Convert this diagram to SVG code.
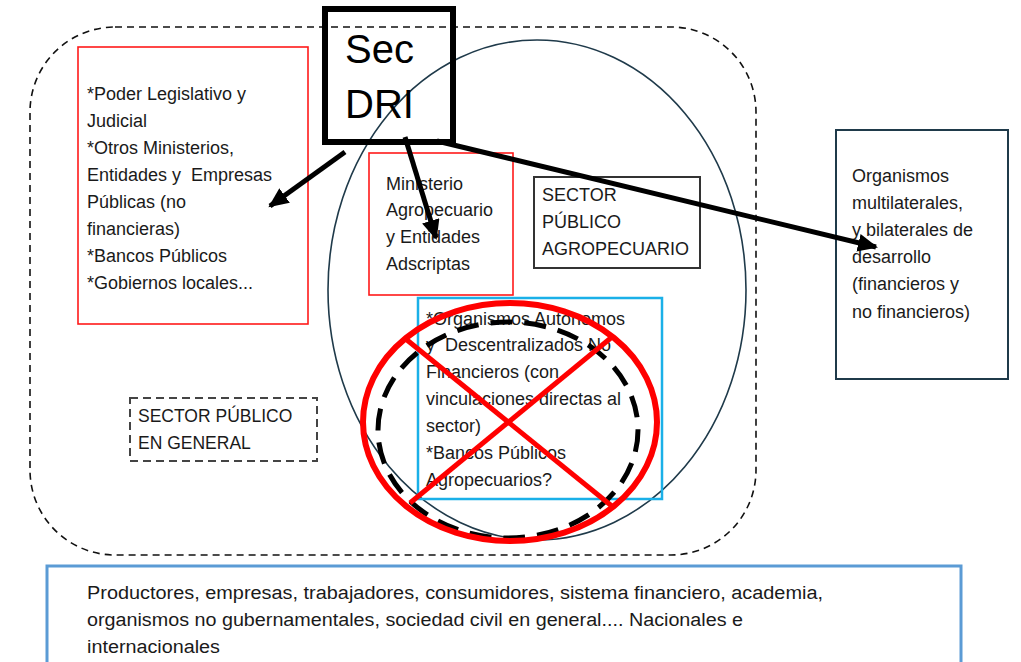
<svg xmlns="http://www.w3.org/2000/svg" width="1021" height="662" viewBox="0 0 1021 662">
<style>
.t{font-family:"Liberation Sans","Open Sans",sans-serif;font-size:18px;fill:#1a1a1a}
.cap{font-family:"Liberation Sans",sans-serif;font-size:17.5px;fill:#1a1a1a}
.red{fill:none;stroke:#ff1a1a;stroke-width:1.6}
.conn{stroke:#000;stroke-width:5;fill:none}
.big{font-family:"Liberation Sans",sans-serif;font-size:40px;fill:#000}
</style>
<defs>
<marker id="ah" markerUnits="userSpaceOnUse" markerWidth="22" markerHeight="22" refX="18" refY="9" orient="auto">
<path d="M0,0 L20,9 L0,18 Z" fill="#000"/>
</marker>
</defs>
<rect width="1021" height="662" fill="#fff"/>

<g id="sector-publico-general-area">
<rect x="30" y="27" width="726" height="528" rx="85" ry="85" fill="none" stroke="#111" stroke-width="1.6" stroke-dasharray="7 5"/>
</g>

<g id="sector-agro-ellipse">
<ellipse cx="537" cy="290" rx="209" ry="250" fill="none" stroke="#1f3a4a" stroke-width="1.6"/>
</g>

<g id="left-box">
<rect x="78" y="47" width="230" height="277" class="red"/>
<text class="t" x="87" y="100">*Poder Legislativo y</text>
<text class="t" x="87" y="127">Judicial</text>
<text class="t" x="87" y="154">*Otros Ministerios,</text>
<text class="t" x="87" y="181" xml:space="preserve">Entidades y  Empresas</text>
<text class="t" x="87" y="208">Públicas (no</text>
<text class="t" x="87" y="235">financieras)</text>
<text class="t" x="87" y="262">*Bancos Públicos</text>
<text class="t" x="87" y="289">*Gobiernos locales...</text>
</g>

<g id="ministerio-box">
<rect x="369" y="153" width="144" height="142" class="red"/>
<text class="t" x="386" y="190">Ministerio</text>
<text class="t" x="386" y="216">Agropecuario</text>
<text class="t" x="386" y="243">y Entidades</text>
<text class="t" x="386" y="270">Adscriptas</text>
</g>

<g id="sector-agro-label">
<rect x="534" y="177" width="166" height="91" fill="none" stroke="#333" stroke-width="2"/>
<text class="t" x="542" y="201">SECTOR</text>
<text class="t" x="542" y="228">PÚBLICO</text>
<text class="t" x="542" y="255">AGROPECUARIO</text>
</g>

<g id="organismos-box">
<rect x="418" y="298" width="244" height="201" fill="none" stroke="#1ab0e8" stroke-width="2.5"/>
<text class="t" x="426" y="325">*Organismos Autónomos</text>
<text class="t" x="426" y="351" xml:space="preserve">y  Descentralizados No</text>
<text class="t" x="426" y="378">Financieros (con</text>
<text class="t" x="426" y="405">vinculaciones directas al</text>
<text class="t" x="426" y="432">sector)</text>
<text class="t" x="426" y="459">*Bancos Públicos</text>
<text class="t" x="426" y="486">Agropecuarios?</text>
</g>

<g id="crossed-out">
<ellipse cx="508" cy="430" rx="130" ry="108" fill="none" stroke="#000" stroke-width="5" stroke-dasharray="22 12"/>
<ellipse cx="510" cy="422" rx="147" ry="119" fill="none" stroke="#ff0000" stroke-width="6"/>
<line x1="407" y1="340" x2="613" y2="507" stroke="#ff0000" stroke-width="5"/>
<line x1="612" y1="337" x2="410" y2="503" stroke="#ff0000" stroke-width="5"/>
</g>

<g id="sector-general-label">
<rect x="130" y="398" width="187" height="63" fill="none" stroke="#444" stroke-width="2" stroke-dasharray="8 5"/>
<text class="cap" x="138" y="422">SECTOR PÚBLICO</text>
<text class="cap" x="138" y="449">EN GENERAL</text>
</g>

<g id="multilaterales-box">
<rect x="836" y="130" width="172" height="249" fill="none" stroke="#1f3a4a" stroke-width="2"/>
<text class="t" x="852" y="182">Organismos</text>
<text class="t" x="852" y="209">multilaterales,</text>
<text class="t" x="852" y="236">y bilaterales de</text>
<text class="t" x="852" y="263">desarrollo</text>
<text class="t" x="852" y="290">(financieros y</text>
<text class="t" x="852" y="318">no financieros)</text>
</g>

<g id="sociedad-box">
<rect x="47" y="566" width="914" height="110" fill="#fff" stroke="#5b9bd5" stroke-width="3"/>
<text class="t" x="87" y="599" textLength="736" lengthAdjust="spacingAndGlyphs">Productores, empresas, trabajadores, consumidores, sistema financiero, academia,</text>
<text class="t" x="87" y="626" textLength="656" lengthAdjust="spacingAndGlyphs">organismos no gubernamentales, sociedad civil en general.... Nacionales e</text>
<text class="t" x="87" y="653" textLength="133" lengthAdjust="spacingAndGlyphs">internacionales</text>
</g>

<g id="sec-dri">
<rect x="325" y="9" width="128" height="133" fill="none" stroke="#000" stroke-width="6"/>
<text class="big" x="345" y="63">Sec</text>
<text class="big" x="345" y="118">DRI</text>
</g>

<g id="connectors">
<line class="conn" x1="345" y1="152" x2="270" y2="206" marker-end="url(#ah)"/>
<line class="conn" x1="405" y1="137" x2="436" y2="238" marker-end="url(#ah)"/>
<line class="conn" x1="437" y1="141" x2="876" y2="247" marker-end="url(#ah)"/>
</g>
</svg>
